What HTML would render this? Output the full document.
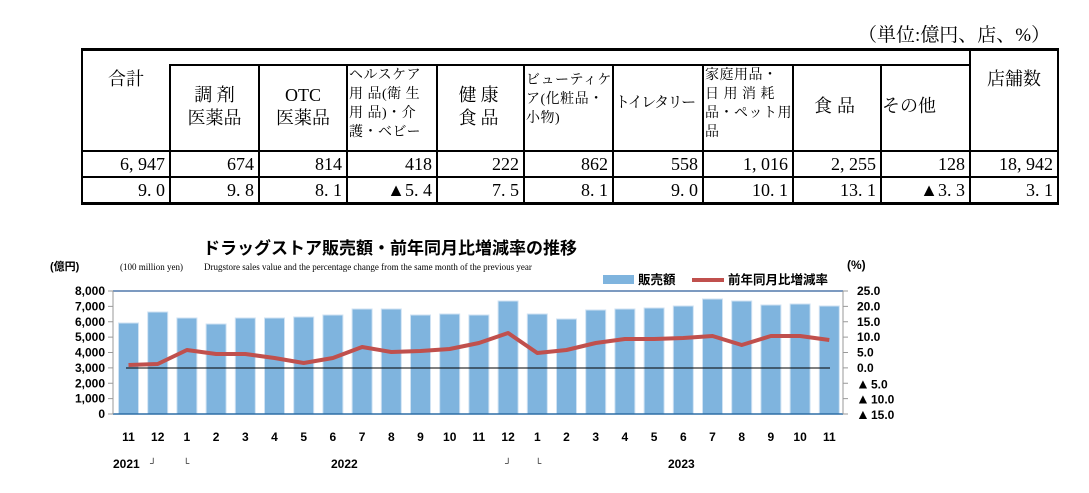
<!DOCTYPE html>
<html><head><meta charset="utf-8"><style>
body{margin:0;width:1089px;height:493px;background:#fff;position:relative;overflow:hidden;font-family:"Liberation Serif","Noto Serif CJK SC",serif;}
.a{position:absolute;}
.t{font-family:"Liberation Serif","Noto Serif CJK JP",serif;color:#000;}
.h{position:absolute;font-size:18px;line-height:23px;text-align:center;}
.s{position:absolute;font-size:14px;line-height:19px;letter-spacing:0.5px;text-align:left;white-space:nowrap;}
.n{position:absolute;font-size:18px;line-height:26px;text-align:right;}
.vl{position:absolute;width:2px;background:#000;}
.hl{position:absolute;height:2px;background:#000;}
</style></head><body>
<div class="a t" style="left:858px;top:20px;font-size:19px;">（単位:億円、店、%）</div>
<div class="hl" style="left:81px;top:48px;width:978px;height:3px;"></div>
<div class="hl" style="left:169px;top:64px;width:801px;"></div>
<div class="hl" style="left:81px;top:150px;width:978px;"></div>
<div class="hl" style="left:81px;top:176px;width:978px;"></div>
<div class="hl" style="left:81px;top:202px;width:978px;height:3px;"></div>
<div class="vl" style="left:81px;top:48px;height:157px;"></div>
<div class="vl" style="left:1057px;top:48px;height:157px;"></div>
<div class="vl" style="left:969px;top:48px;height:157px;"></div>
<div class="vl" style="left:169px;top:64px;height:141px;"></div>
<div class="vl" style="left:258px;top:64px;height:141px;"></div>
<div class="vl" style="left:346px;top:64px;height:141px;"></div>
<div class="vl" style="left:436px;top:64px;height:141px;"></div>
<div class="vl" style="left:523px;top:64px;height:141px;"></div>
<div class="vl" style="left:612px;top:64px;height:141px;"></div>
<div class="vl" style="left:702px;top:64px;height:141px;"></div>
<div class="vl" style="left:792px;top:64px;height:141px;"></div>
<div class="vl" style="left:880px;top:64px;height:141px;"></div>
<div class="h t" style="left:83px;top:68px;width:86px;">合計</div>
<div class="h t" style="left:171px;top:84px;width:87px;">調 剤<br>医薬品</div>
<div class="h t" style="left:260px;top:84px;width:86px;">OTC<br>医薬品</div>
<div class="s t" style="left:349px;top:66px;width:88px;">ヘルスケア<br>用 品(衛 生<br>用 品)・介<br>護・ベビー</div>
<div class="h t" style="left:438px;top:84px;width:85px;letter-spacing:4px;">健康<br>食品</div>
<div class="s t" style="left:526px;top:71px;width:88px;">ビューティケ<br>ア(化粧品・<br>小物)</div>
<div class="s t" style="left:615px;top:94px;width:88px;letter-spacing:-1.5px;font-size:15px;">トイレタリー</div>
<div class="s t" style="left:705px;top:66px;width:88px;">家庭用品・<br>日 用 消 耗<br>品・ペット用<br>品</div>
<div class="h t" style="left:794px;top:95px;width:86px;letter-spacing:5px;">食品</div>
<div class="h t" style="left:882px;top:95px;width:87px;text-align:left;">その他</div>
<div class="h t" style="left:971px;top:68px;width:86px;">店舗数</div>
<div class="n t" style="left:83px;top:151px;width:82px;">6, 947</div>
<div class="n t" style="left:171px;top:151px;width:83px;">674</div>
<div class="n t" style="left:260px;top:151px;width:82px;">814</div>
<div class="n t" style="left:349px;top:151px;width:83px;">418</div>
<div class="n t" style="left:438px;top:151px;width:81px;">222</div>
<div class="n t" style="left:526px;top:151px;width:82px;">862</div>
<div class="n t" style="left:615px;top:151px;width:83px;">558</div>
<div class="n t" style="left:705px;top:151px;width:83px;">1, 016</div>
<div class="n t" style="left:794px;top:151px;width:82px;">2, 255</div>
<div class="n t" style="left:882px;top:151px;width:83px;">128</div>
<div class="n t" style="left:971px;top:151px;width:82px;">18, 942</div>
<div class="n t" style="left:83px;top:177px;width:82px;">9. 0</div>
<div class="n t" style="left:171px;top:177px;width:83px;">9. 8</div>
<div class="n t" style="left:260px;top:177px;width:82px;">8. 1</div>
<div class="n t" style="left:349px;top:177px;width:83px;">▲5. 4</div>
<div class="n t" style="left:438px;top:177px;width:81px;">7. 5</div>
<div class="n t" style="left:526px;top:177px;width:82px;">8. 1</div>
<div class="n t" style="left:615px;top:177px;width:83px;">9. 0</div>
<div class="n t" style="left:705px;top:177px;width:83px;">10. 1</div>
<div class="n t" style="left:794px;top:177px;width:82px;">13. 1</div>
<div class="n t" style="left:882px;top:177px;width:83px;">▲3. 3</div>
<div class="n t" style="left:971px;top:177px;width:82px;">3. 1</div>

<svg class="a" style="left:0;top:0" width="1089" height="493" xmlns="http://www.w3.org/2000/svg">
<g font-family="Liberation Sans, Noto Sans CJK JP, sans-serif">
<text x="203" y="254" font-size="17" font-weight="bold">ドラッグストア販売額・前年同月比増減率の推移</text>
<text x="50" y="270" font-size="11" font-weight="bold">(億円)</text>
<text x="847" y="269" font-size="12" font-weight="bold">(%)</text>
</g>
<g font-family="Liberation Serif, serif" font-size="9">
<text x="120" y="270">(100 million yen)</text>
<text x="204" y="270">Drugstore sales value and the percentage change from the same month of the previous year</text>
</g>
<rect x="603" y="275" width="31" height="9" fill="#7fb4de"/>
<text x="638" y="284" font-size="12.5" font-weight="bold" font-family="Liberation Sans, Noto Sans CJK JP, sans-serif">販売額</text>
<line x1="692" y1="280" x2="724" y2="280" stroke="#c0504d" stroke-width="4"/>
<text x="728" y="284" font-size="12.5" font-weight="bold" font-family="Liberation Sans, Noto Sans CJK JP, sans-serif">前年同月比増減率</text>
<g fill="#7fb4de" stroke="#cfe2f3" stroke-width="1" id="bars"></g>
<line x1="113" y1="291" x2="843" y2="291" stroke="#2e5e9a" stroke-width="1.2"/>
<line x1="113" y1="414" x2="843" y2="414" stroke="#2e6ea6" stroke-width="1.5"/>
<line x1="113" y1="291" x2="113" y2="414" stroke="#999" stroke-width="1"/>
<line x1="843" y1="291" x2="843" y2="414" stroke="#999" stroke-width="1"/>
<line x1="126" y1="368" x2="830" y2="368" stroke="#000" stroke-width="1"/>
<g stroke="#999" stroke-width="1" id="ticks"></g>
<polyline id="ln" fill="none" stroke="#c0504d" stroke-width="4" stroke-linejoin="round"/>
<g font-family="Liberation Sans, DejaVu Sans, sans-serif" font-size="12" font-weight="bold" id="lab"></g>
</svg>
<script>
var tops=[323,312,318,324,318,318,317,315,309,309,315,314,315,301,314,319,310,309,308,306,299,301,305,304,306];
var ly=[365,364,350,354,354,358,363,358,347,352,351,349,343,333,353,350,343,339,339,338,336,345,336,336,340];
var mon=["11","12","1","2","3","4","5","6","7","8","9","10","11","12","1","2","3","4","5","6","7","8","9","10","11"];
var ns="http://www.w3.org/2000/svg";
function el(p,t,a,txt){var e=document.createElementNS(ns,t);for(var k in a)e.setAttribute(k,a[k]);if(txt!=null)e.textContent=txt;document.getElementById(p).appendChild(e);return e;}
var pts=[];
for(var i=0;i<25;i++){var c=128.5+29.2*i;
el("bars","rect",{x:c-10,y:tops[i],width:20,height:414-tops[i]});
pts.push(c+","+ly[i]);
el("lab","text",{x:c,y:441,"text-anchor":"middle"},mon[i]);}
document.getElementById("ln").setAttribute("points",pts.join(" "));
var L=["8,000","7,000","6,000","5,000","4,000","3,000","2,000","1,000","0"];
var R=["25.0","20.0","15.0","10.0","5.0","0.0"];
for(var j=0;j<9;j++){var y=291+j*15.375;
el("ticks","line",{x1:108,y1:y,x2:113,y2:y});
el("ticks","line",{x1:843,y1:y,x2:848,y2:y});
el("lab","text",{x:105,y:y+4,"text-anchor":"end"},L[j]);
if(j<6) el("lab","text",{x:857,y:y+4},R[j]);}
var neg=["5.0","10.0","15.0"];
for(var k=0;k<3;k++){var y=291+(6+k)*15.375;
el("lab","text",{x:856,y:y+5,"font-size":"14"},"▲");
el("lab","text",{x:871,y:y+5},neg[k]);}
el("lab","text",{x:113,y:468},"2021");
el("lab","text",{x:150,y:466,"font-size":"9"},"┘");
el("lab","text",{x:183,y:466,"font-size":"9"},"└");
el("lab","text",{x:331,y:468},"2022");
el("lab","text",{x:505,y:466,"font-size":"9"},"┘");
el("lab","text",{x:535,y:466,"font-size":"9"},"└");
el("lab","text",{x:668,y:468},"2023");
</script>
</body></html>
